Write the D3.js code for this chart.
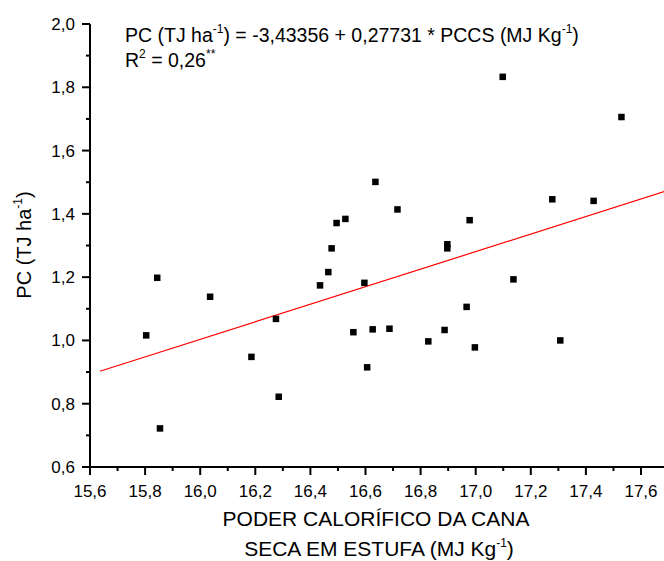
<!DOCTYPE html>
<html><head><meta charset="utf-8">
<script src="https://cdn.jsdelivr.net/npm/d3@7"></script>
<style>body{margin:0;background:#fff}svg{display:block}text{font-family:"Liberation Sans",Arial,sans-serif;fill:#000}</style>
</head><body>
<script>
const xValues = [15.804,15.844,15.854,16.036,16.186,16.275,16.285,16.435,16.465,16.477,16.495,16.527,16.556,16.596,16.606,16.626,16.636,16.687,16.716,16.828,16.887,16.897,16.897,16.967,16.978,16.997,17.098,17.137,17.278,17.307,17.428,17.529];
const yValues = [1.016,1.198,0.722,1.138,0.948,1.068,0.822,1.174,1.216,1.291,1.371,1.384,1.026,1.182,0.915,1.035,1.501,1.037,1.414,0.997,1.033,1.304,1.291,1.106,1.380,0.978,1.833,1.193,1.446,1.000,1.441,1.706];
const xTicks = [15.6,15.8,16.0,16.2,16.4,16.6,16.8,17.0,17.2,17.4,17.6];
const yTicks = [0.6,0.8,1.0,1.2,1.4,1.6,1.8,2.0];
const intercept = -3.43356, slope = 0.27731;
const fitRange = [15.636, 17.7];

const W=664,H=561;
const svg=d3.select("body").append("svg").attr("width",W).attr("height",H);
const x=d3.scaleLinear().domain([15.6,17.7]).range([90,90+2.1*275.5]);
const y=d3.scaleLinear().domain([0.6,2.0]).range([467,24]);
const fmt=d=>d.toFixed(1).replace(".",",");

const xMinor=d3.range(15.7,17.7,0.2);
const yMinor=d3.range(0.7,2.0,0.2);
const gx=svg.append("g").attr("transform","translate(0,467)");
gx.append("line").attr("x1",89).attr("x2",W).attr("stroke","#000").attr("stroke-width",2);
gx.selectAll(".mj").data(xTicks).join("line").attr("class","mj").attr("x1",d=>x(d)).attr("x2",d=>x(d)).attr("y1",0).attr("y2",8).attr("stroke","#000").attr("stroke-width",2);
gx.selectAll(".mn").data(xMinor).join("line").attr("class","mn").attr("x1",d=>x(d)).attr("x2",d=>x(d)).attr("y1",0).attr("y2",4).attr("stroke","#000").attr("stroke-width",2);
gx.selectAll("text").data(xTicks).join("text").attr("x",d=>x(d)).attr("y",30).attr("text-anchor","middle").attr("font-size",17).text(fmt);

const gy=svg.append("g").attr("transform","translate(90,0)");
gy.append("line").attr("y1",y(2.0)).attr("y2",468).attr("stroke","#000").attr("stroke-width",2);
gy.selectAll(".mj").data(yTicks).join("line").attr("class","mj").attr("x1",0).attr("x2",-8).attr("y1",d=>y(d)).attr("y2",d=>y(d)).attr("stroke","#000").attr("stroke-width",2);
gy.selectAll(".mn").data(yMinor).join("line").attr("class","mn").attr("x1",0).attr("x2",-4).attr("y1",d=>y(d)).attr("y2",d=>y(d)).attr("stroke","#000").attr("stroke-width",2);
gy.selectAll("text").data(yTicks).join("text").attr("x",-15).attr("y",d=>y(d)+6).attr("text-anchor","end").attr("font-size",17).text(fmt);

svg.append("line").attr("x1",x(fitRange[0])).attr("x2",x(fitRange[1]))
 .attr("y1",y(intercept+slope*fitRange[0])).attr("y2",y(intercept+slope*fitRange[1]))
 .attr("stroke","#ff0000").attr("stroke-width",1.2);

const s=6.5;
svg.selectAll("rect.pt").data(xValues.map((v,i)=>[v,yValues[i]])).join("rect").attr("class","pt")
 .attr("x",d=>x(d[0])-s/2).attr("y",d=>y(d[1])-s/2).attr("width",s).attr("height",s).attr("fill","#000");

function sup(t,txt){t.append("tspan").attr("font-size",12).attr("dy",-9).text(txt);}
const eq=svg.append("text").attr("x",125).attr("y",42).attr("font-size",19.5);
eq.append("tspan").text("PC (TJ ha");
sup(eq,"-1");
eq.append("tspan").attr("dy",9).text(") = -3,43356 + 0,27731 * PCCS (MJ Kg");
sup(eq,"-1");
eq.append("tspan").attr("dy",9).text(")");
const r2=svg.append("text").attr("x",125).attr("y",67).attr("font-size",19.5);
r2.append("tspan").text("R");
sup(r2,"2");
r2.append("tspan").attr("dy",9).text(" = 0,26");
sup(r2,"**");

svg.append("text").attr("x",376).attr("y",526).attr("text-anchor","middle").attr("font-size",21).text("PODER CALORÍFICO DA CANA");
const xt=svg.append("text").attr("x",379).attr("y",556).attr("text-anchor","middle").attr("font-size",21);
xt.append("tspan").text("SECA EM ESTUFA (MJ Kg");
sup(xt,"-1");
xt.append("tspan").attr("dy",9).text(")");

const yt=svg.append("text").attr("transform","translate(31,245) rotate(-90)").attr("text-anchor","middle").attr("font-size",20);
yt.append("tspan").text("PC (TJ ha");
sup(yt,"-1");
yt.append("tspan").attr("dy",9).text(")");
</script>
</body></html>
